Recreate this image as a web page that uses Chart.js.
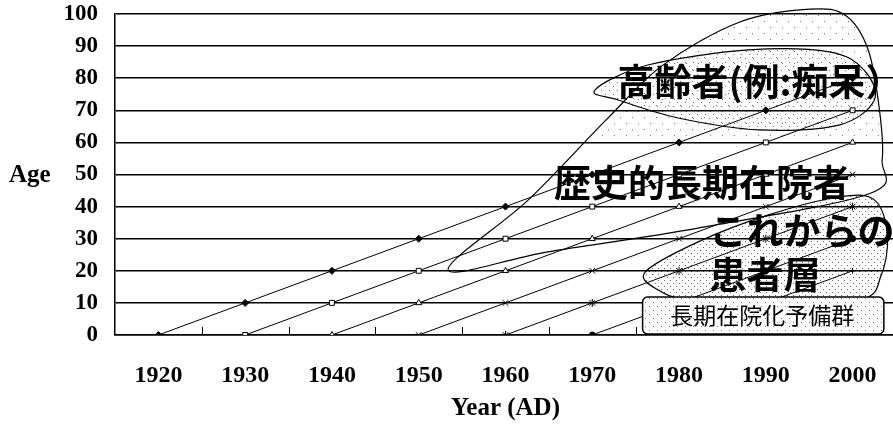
<!DOCTYPE html>
<html><head><meta charset="utf-8">
<script src="https://cdn.jsdelivr.net/npm/chart.js@4/dist/chart.umd.min.js"></script>
<style>html,body{margin:0;padding:0;background:#fff;overflow:hidden}#wrap{width:893px;height:437px;overflow:hidden}</style>
</head><body><div id="wrap"><canvas id="c" width="901" height="437"></canvas></div>
<script>
// ---- data ----
const years = ['1920','1930','1940','1950','1960','1970','1980','1990','2000'];
const yTickValues = [0,10,20,30,40,50,60,70,80,90,100];
const born1920 = [0,10,20,30,40,50,60,70,80];
const born1930 = [null,0,10,20,30,40,50,60,70];
const born1940 = [null,null,0,10,20,30,40,50,60];
const born1950 = [null,null,null,0,10,20,30,40,50];
const born1960 = [null,null,null,null,0,10,20,30,40];
const born1970 = [null,null,null,null,null,0,10,20,30];
const born1980 = [null,null,null,null,null,null,0,10,20];
const born1990 = [null,null,null,null,null,null,null,0,10];
const yTitle = 'Age';
const xTitle = 'Year (AD)';
const labelElderly = '高齢者(例:痴呆）';
const labelHistoric = '歴史的長期在院者';
const labelFuture1 = 'これからの';
const labelFuture2 = '患者層';
const labelReserve = '長期在院化予備群';

// annotation outlines, in (year, age)
const shapeHistoric = [[1953.4,20.2],[1962.6,42],[1971.6,67],[1978.1,84],[1987.0,97.5],[1995.1,101.5],[1999.2,99.5],[2001.8,88.8],[2003.1,70],[2003.4,54.5],[2001.9,44],[1982.2,33.3],[1964.9,25.9]];
const shapeElderly = [[1970.3,76.3],[1976.4,84.1],[1988.0,88.8],[1997.3,88.2],[2001.3,82.6],[2002.5,73.2],[1998.4,65.4],[1989.2,63.9],[1979.9,67.6],[1973.0,73.2]];
const shapeFuture = [[1976.1,19.6],[1982.2,29.0],[1990.3,37.4],[1998.4,43.0],[2002.5,42.1],[2004.0,31.2],[2003.3,18.7],[2000.8,10.9],[1989.2,9.3],[1981.1,10.9],[1977.6,14.0]];

function ds(data, style, radius, filled){
  return {data, borderColor:'#000', borderWidth:1, pointStyle:style, pointRadius:radius,
    pointBackgroundColor: filled ? '#000' : '#fff', pointBorderColor:'#000', pointBorderWidth:1,
    spanGaps:false, tension:0, fill:false};
}

function smoothClosed(ctx, pts){
  const n = pts.length;
  ctx.beginPath();
  ctx.moveTo(pts[0][0], pts[0][1]);
  for(let i=0;i<n;i++){
    const p0=pts[(i-1+n)%n], p1=pts[i], p2=pts[(i+1)%n], p3=pts[(i+2)%n];
    const c1=[p1[0]+(p2[0]-p0[0])/6, p1[1]+(p2[1]-p0[1])/6];
    const c2=[p2[0]-(p3[0]-p1[0])/6, p2[1]-(p3[1]-p1[1])/6];
    ctx.bezierCurveTo(c1[0],c1[1],c2[0],c2[1],p2[0],p2[1]);
  }
  ctx.closePath();
}

function makePattern(ctx, size, dots, alpha){
  const c = document.createElement('canvas'); c.width=size; c.height=size;
  const g = c.getContext('2d');
  g.fillStyle='rgba(0,0,0,'+alpha+')';
  dots.forEach(d=>g.fillRect(d[0],d[1],1,1));
  return ctx.createPattern(c,'repeat');
}

const annot = {
  id:'annot',
  afterDatasetsDraw(chart){
    const ctx = chart.ctx, xs = chart.scales.x, ys = chart.scales.y;
    const X = yr => xs.getPixelForValue((yr-1920)/10);
    const Y = a => ys.getPixelForValue(a);
    const P = arr => arr.map(p=>[X(p[0]),Y(p[1])]);
    const sparse = makePattern(ctx, 12, [[2,3],[8,9]], 0.55);
    const medium = makePattern(ctx, 8, [[1,2],[5,6]], 0.55);
    const dense = makePattern(ctx, 6, [[1,1],[4,4]], 0.6);
    ctx.save();
    // upward ticks on x axis between categories
    ctx.strokeStyle='#000'; ctx.lineWidth=1;
    for(let i=0;i<years.length;i++){
      const x = Math.round(xs.getPixelForValue(i+0.5))+0.5;
      ctx.beginPath(); ctx.moveTo(x, ys.bottom); ctx.lineTo(x, ys.bottom-8); ctx.stroke();
    }
    // historic shape: stipple only in its upper part
    smoothClosed(ctx, P(shapeHistoric));
    ctx.save(); ctx.clip();
    ctx.fillStyle = sparse; ctx.fillRect(0, 0, chart.width, Y(62));
    ctx.restore();
    smoothClosed(ctx, P(shapeHistoric));
    ctx.strokeStyle='#000'; ctx.lineWidth=1.2; ctx.stroke();
    [[shapeElderly,medium],[shapeFuture,dense]].forEach(([s,pat])=>{
      smoothClosed(ctx, P(s));
      ctx.fillStyle = pat; ctx.fill();
      ctx.strokeStyle='#000'; ctx.lineWidth=1.2; ctx.stroke();
    });
    // texts
    ctx.fillStyle='#000'; ctx.textBaseline='middle'; ctx.textAlign='left';
    ctx.font = 'bold 37px "Noto Sans CJK JP"';
    ctx.fillText(labelElderly, X(1972.9), Y(78.8));
    ctx.fillText(labelHistoric, X(1965.6), Y(47.4));
    ctx.fillText(labelFuture1, X(1983.5), Y(32.4));
    ctx.fillText(labelFuture2, X(1983.5), Y(18.7));
    // reserve box
    const bx1=X(1975.8), bx2=X(2003.6), by1=Y(11.8), by2=Y(0.3);
    ctx.beginPath(); ctx.roundRect(bx1,by1,bx2-bx1,by2-by1,5);
    ctx.fillStyle='#fff'; ctx.fill();
    ctx.fillStyle=medium; ctx.fill();
    ctx.strokeStyle='#000'; ctx.lineWidth=1.5; ctx.stroke();
    ctx.fillStyle='#000'; ctx.textAlign='center';
    ctx.font = '23px "Noto Sans CJK JP"';
    ctx.fillText(labelReserve, X(1989.6), Y(6.0));
    // y title (horizontal)
    ctx.font = 'bold 25px "Liberation Serif"'; ctx.textAlign='left';
    ctx.fillText(yTitle, 9, Y(50)+1);
    ctx.restore();
  }
};

new Chart(document.getElementById('c'), {
  type:'line',
  data:{labels:years, datasets:[
    ds(born1920,'rectRot',3.5,true),
    ds(born1930,'rect',3.5,false),
    ds(born1940,'triangle',3.5,false),
    ds(born1950,'crossRot',4,false),
    ds(born1960,'star',4,false),
    ds(born1970,'circle',3,true),
    ds(born1980,'cross',3,false),
    ds(born1990,'circle',2,true)
  ]},
  options:{
    responsive:false, animation:false, devicePixelRatio:1,
    layout:{padding:{left:55,right:0,top:14,bottom:13}},
    plugins:{legend:{display:false}, tooltip:{enabled:false}},
    scales:{
      x:{type:'category', offset:true,
        afterFit(s){ s.height = 89; s.paddingLeft = 0; s.paddingRight = 0; },
        grid:{display:true, drawOnChartArea:false, drawTicks:false},
        border:{display:true,color:'#000',width:1.5},
        ticks:{color:'#000', padding:26, maxRotation:0, autoSkip:false, font:{family:'"Liberation Serif"', weight:'bold', size:24}},
        title:{display:true, text:xTitle, color:'#000', padding:{top:5,bottom:0}, font:{family:'"Liberation Serif"', weight:'bold', size:25}}
      },
      y:{min:0,max:100,
        afterBuildTicks(s){ s.ticks = yTickValues.map(v=>({value:v})); },
        afterFit(s){ s.width = 60; s.paddingTop = 0; s.paddingBottom = 0; },
        grid:{color:'#000', lineWidth:1.5, drawTicks:false},
        border:{display:true,color:'#000',width:1.5},
        ticks:{color:'#000', padding:17, autoSkip:false, font:{family:'"Liberation Serif"', weight:'bold', size:23}}
      }
    }
  },
  plugins:[annot]
});
</script></body></html>
